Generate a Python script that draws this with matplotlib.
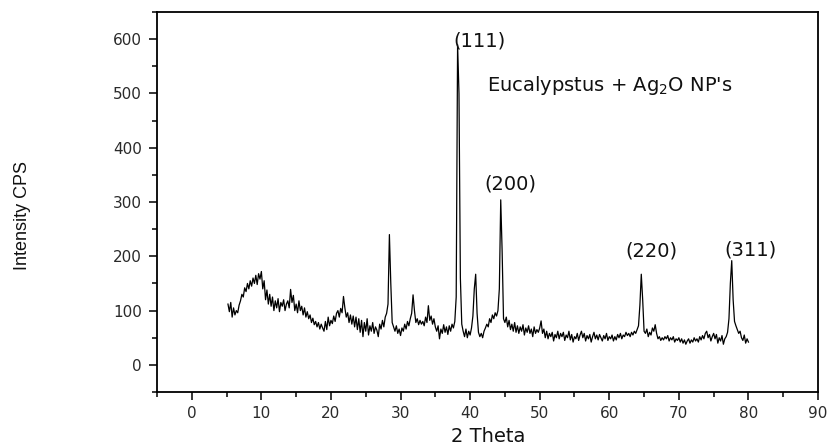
#!/usr/bin/env python3
# -*- coding: utf-8 -*-
"""
XRD pattern - Eucalyptus + Ag2O nanoparticles
"""

import numpy as np
import matplotlib
matplotlib.use('Agg')
import matplotlib.pyplot as plt

###############################################################################
###############################################################################

plt.rcParams['font.family'] = ['DejaVu Sans']

# 2 theta grid, 0.2 deg step from 5.2 to 80.0
twoTheta = np.round(np.arange(5.2, 80.01, 0.2), 1)

# intensity (CPS), one row per 5 deg
intensity = [
    112, 98, 115, 88, 105, 92, 100, 96, 110, 118, 130, 125, 142, 135, 150, 140, 155, 145, 160, 150, 165, 148, 168, 158, 172,   # 5.2 - 10.0
    140, 155, 120, 138, 112, 130, 108, 125, 100, 118, 105, 122, 98, 115, 108, 120, 100, 112, 118, 105, 139, 115, 128, 100, 112,  # 10.2 - 15.0
    96, 118, 100, 108, 92, 105, 88, 98, 85, 92, 78, 86, 74, 80, 70, 78, 66, 75, 68, 62, 80, 65, 88, 72, 82,                     # 15.2 - 20.0
    76, 90, 80, 95, 100, 88, 104, 96, 126, 105, 88, 96, 78, 92, 75, 90, 70, 88, 65, 85, 60, 82, 52, 78, 62,                     # 20.2 - 25.0
    85, 55, 72, 62, 78, 58, 70, 64, 52, 75, 66, 82, 70, 88, 95, 112, 240, 150, 78, 70, 62, 72, 58, 66, 54,                     # 25.2 - 30.0
    68, 62, 75, 66, 80, 72, 85, 95, 129, 100, 78, 85, 74, 82, 75, 80, 72, 88, 78, 109, 82, 90, 75, 85, 70,                     # 30.2 - 35.0
    62, 72, 48, 66, 58, 74, 60, 70, 56, 72, 62, 75, 68, 80, 125, 590, 500, 160, 75, 62, 52, 66, 50, 62, 55,                     # 35.2 - 40.0
    68, 90, 140, 167, 95, 60, 52, 58, 50, 62, 68, 75, 70, 85, 78, 92, 85, 96, 90, 100, 140, 304, 210, 85, 78,                   # 40.2 - 45.0
    88, 70, 82, 65, 75, 62, 78, 60, 72, 58, 70, 62, 74, 55, 68, 60, 72, 58, 66, 52, 70, 58, 65, 60, 68,                         # 45.2 - 50.0
    81, 58, 66, 50, 62, 48, 58, 52, 60, 44, 56, 50, 62, 48, 58, 52, 60, 45, 55, 50, 62, 46, 56, 42, 52,                         # 50.2 - 55.0
    48, 58, 45, 55, 62, 50, 58, 44, 54, 48, 56, 42, 52, 60, 48, 55, 46, 56, 50, 44, 54, 48, 58, 45, 52,                         # 55.2 - 60.0
    48, 55, 44, 52, 46, 56, 50, 58, 48, 55, 52, 60, 54, 58, 52, 60, 55, 62, 58, 65, 72, 110, 167, 120, 62,                      # 60.2 - 65.0
    58, 66, 52, 60, 55, 68, 62, 74, 58, 48, 52, 45, 50, 46, 52, 48, 54, 44, 50, 46, 52, 42, 48, 45, 50,                         # 65.2 - 70.0
    42, 48, 40, 46, 38, 44, 48, 40, 46, 42, 50, 44, 48, 42, 52, 46, 54, 48, 58, 62, 50, 56, 44, 52, 58,                         # 70.2 - 75.0
    48, 56, 40, 50, 44, 54, 38, 48, 52, 60, 85, 150, 192, 120, 80, 72, 65, 58, 62, 50, 45, 55, 40, 48, 42,                      # 75.2 - 80.0
]

# peak labels (hkl) and their positions
peakLabels = ['(111)', '(200)', '(220)', '(311)']
peakLabelX = [41.3, 45.8, 66.1, 80.3]
peakLabelY = [596, 333, 209, 211]

###############################################################################
###############################################################################

fig = plt.figure(figsize=(8.32, 4.47), dpi=100)
ax1 = fig.add_axes([0.1887, 0.1230, 0.7945, 0.8501])

ax1.plot(twoTheta, intensity, color='black', linewidth=0.9)

ax1.set_xlim(-5, 90)
ax1.set_ylim(-50, 650)

ax1.set_xticks(np.arange(0, 91, 10))
ax1.set_xticks(np.arange(-5, 91, 5), minor=True)
ax1.set_yticks(np.arange(0, 601, 100))
ax1.set_yticks(np.arange(-50, 651, 50), minor=True)

ax1.tick_params(which='both', direction='out', top=False, right=False,
                colors='black', labelcolor='#2a2a2a', labelsize=11)
ax1.tick_params(which='major', length=6, width=1.1)
ax1.tick_params(which='minor', length=3.5, width=1.1)
ax1.tick_params(axis='y', pad=5)
ax1.tick_params(axis='x', pad=4)

for sp in ax1.spines.values():
    sp.set_linewidth(1.3)

for lab, xl, yl in zip(peakLabels, peakLabelX, peakLabelY):
    ax1.text(xl, yl, lab, ha='center', va='center', fontsize=14, color='#111111')

ax1.text(42.4, 515, "Eucalypstus + Ag$_2$O NP's", ha='left', va='center',
         fontsize=14, color='#111111')

fig.text(488 / 832, 1 - 437 / 447, '2 Theta', ha='center', va='center',
         fontsize=14, color='#111111')
fig.text(23 / 832, 1 - 215 / 447, 'Intensity CPS', rotation=90,
         ha='center', va='center', fontsize=13, color='#111111',
         family=['Liberation Sans Narrow', 'Liberation Sans'])

###############################################################################
###############################################################################
fig.savefig('out.png', dpi=100)
